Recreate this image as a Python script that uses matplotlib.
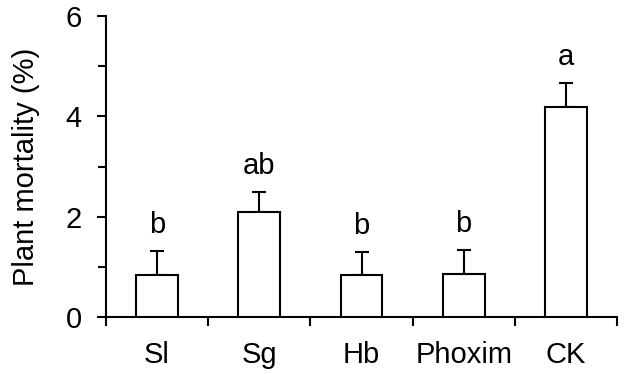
import matplotlib
matplotlib.use("Agg")
import matplotlib.pyplot as plt
from matplotlib.ticker import FixedLocator
import numpy as np

categories = ["Sl", "Sg", "Hb", "Phoxim", "CK"]
means = [0.84, 2.09, 0.83, 0.85, 4.18]
errors = [0.48, 0.40, 0.47, 0.48, 0.49]
letters = ["b", "ab", "b", "b", "a"]

plt.rcParams['font.family'] = ['Liberation Sans', 'DejaVu Sans']

fig = plt.figure(figsize=(6.24, 3.74), dpi=100)
ax = fig.add_axes([106/624, (374-317)/374, (617-106)/624, (317-16)/374])

x = np.arange(len(categories))
lw = 1.5
fs = 21
ax.bar(x, means, width=0.41, color='white', edgecolor='black', linewidth=lw, zorder=3)
ax.errorbar(x, means, yerr=[np.zeros(len(errors)), errors], fmt='none',
            ecolor='black', elinewidth=lw, capsize=4.7, capthick=lw, zorder=2)
for xi, m, e, t in zip(x, means, errors, letters):
    ax.text(xi, m + e + 0.24, t, ha='center', va='bottom', fontsize=fs)

ax.set_xlim(-0.5, len(categories) - 0.5)
ax.set_ylim(0, 6)
ax.spines['top'].set_visible(False)
ax.spines['right'].set_visible(False)
ax.spines['left'].set_linewidth(lw)
ax.spines['bottom'].set_linewidth(lw)

ax.set_yticks([0, 2, 4, 6])
ax.yaxis.set_minor_locator(FixedLocator([1, 3, 5]))
ax.tick_params(axis='y', which='major', direction='out', length=6.5, width=lw, labelsize=fs, pad=11)
ax.tick_params(axis='y', which='minor', direction='out', length=5.5, width=lw)

ax.set_xticks(x)
ax.set_xticklabels(categories)
ax.xaxis.set_minor_locator(FixedLocator(np.arange(-0.5, len(categories), 1.0)))
ax.tick_params(axis='x', which='major', length=0, labelsize=fs, pad=17)
ax.tick_params(axis='x', which='minor', direction='out', length=6.5, width=lw)

ax.set_ylabel("Plant mortality (%)", fontsize=fs, labelpad=18)

fig.savefig("out.png", dpi=100)
